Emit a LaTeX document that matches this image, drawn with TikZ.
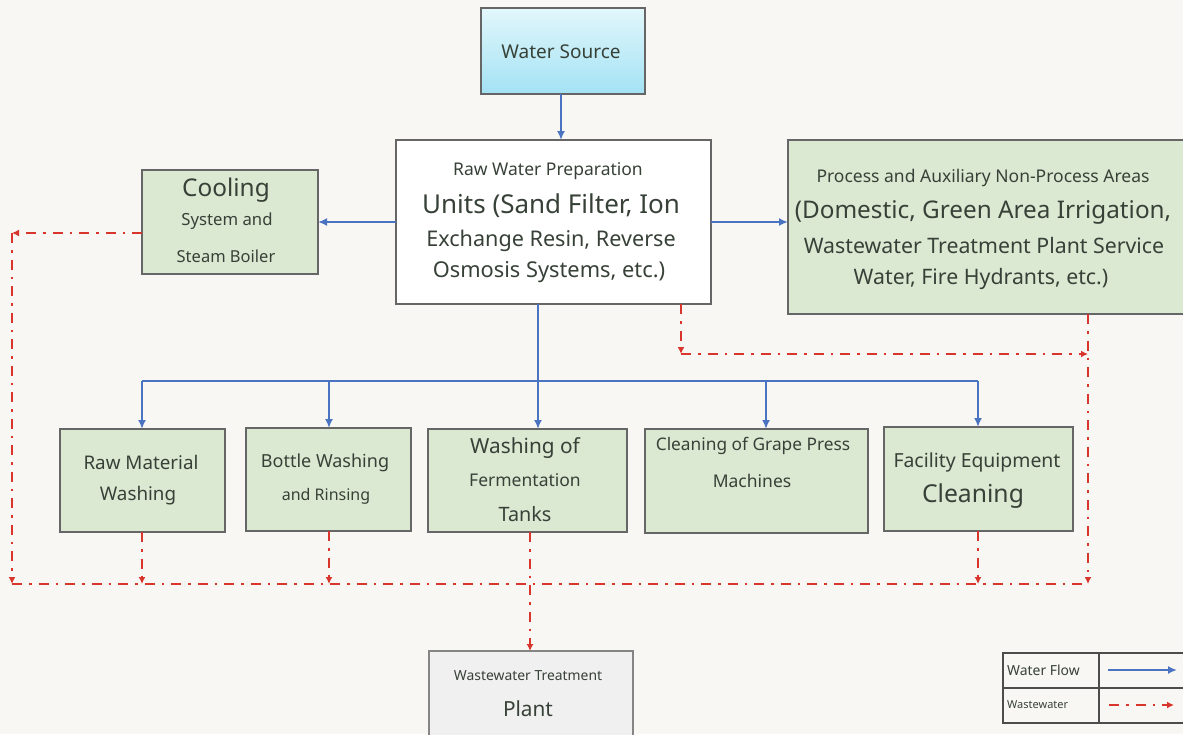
\documentclass[tikz,border=0pt]{standalone}
\usepackage{fontspec}
\setmainfont{Noto Sans}
\usetikzlibrary{arrows.meta}
\newcommand{\myfs}[1]{\fontsize{#1}{#1}\selectfont}
\definecolor{bgc}{HTML}{F8F7F4}
\definecolor{grn}{HTML}{DBE9D3}
\definecolor{bdr}{HTML}{666666}
\definecolor{txt}{HTML}{374137}
\definecolor{flowc}{HTML}{4A74C2}
\definecolor{wwc}{HTML}{D8352C}
\definecolor{wstop}{HTML}{E2F7FB}
\definecolor{wsbot}{HTML}{A3E2F4}
\tikzset{
  box/.style={draw=bdr, line width=1.2pt, anchor=north west, inner sep=0pt, outer sep=0pt},
  gbox/.style={box, fill=grn},
  lbl/.style={text=txt, inner sep=0pt, anchor=center},
  flow/.style={draw=flowc, line width=2.4pt},
  flowa/.style={flow, -{Latex[length=9pt,width=8pt]}},
  ww/.style={draw=wwc, line width=2.6pt, dash pattern=on 10pt off 7pt on 2.5pt off 7pt},
  wwa/.style={ww, -{Latex[length=7pt,width=7pt]}},
}
\begin{document}
\begin{tikzpicture}[x=1pt,y=-1pt]
\fill[bgc] (0,0) rectangle (1183,734);
\useasboundingbox (0,0) rectangle (1183,734);

% boxes
\node[box, top color=wstop, bottom color=wsbot, minimum width=164, minimum height=86] (ws) at (481,8) {};
\node[box, fill=white, minimum width=315, minimum height=164] (raw) at (396,140) {};
\node[gbox, minimum width=176, minimum height=104] (cool) at (142,170) {};
\node[gbox, minimum width=398, minimum height=174] (proc) at (788,140) {};
\node[gbox, minimum width=165, minimum height=103] (rmw) at (60,429) {};
\node[gbox, minimum width=165, minimum height=103] (bot) at (246,428) {};
\node[gbox, minimum width=199, minimum height=103] (ferm) at (428,429) {};
\node[gbox, minimum width=223, minimum height=104] (grape) at (645,429) {};
\node[gbox, minimum width=189, minimum height=104] (fac) at (884,427) {};
\node[box, fill=black!6, draw=bdr!80, minimum width=204, minimum height=90] (wwtp) at (429,651) {};

% texts
\node[lbl] (t-ws) at (561,52) {\myfs{19}Water Source};
\node[lbl] (t-raw1) at (548,171) {\myfs{17.5}Raw Water Preparation};
\node[lbl] (t-raw2) at (551,206) {\myfs{26}Units (Sand Filter, Ion};
\node[lbl] (t-raw3) at (551,241) {\myfs{21.6}Exchange Resin, Reverse};
\node[lbl] (t-raw4) at (549,272) {\myfs{21.8}Osmosis Systems, etc.)};
\node[lbl] (t-c1) at (226,190) {\myfs{24.4}Cooling};
\node[lbl] (t-c2) at (227,221) {\myfs{16.7}System and};
\node[lbl] (t-c3) at (226,256) {\myfs{16.5}Steam Boiler};
\node[lbl] (t-p1) at (983,178) {\myfs{17.5}Process and Auxiliary Non-Process Areas};
\node[lbl] (t-p2) at (983,212) {\myfs{24.3}(Domestic, Green Area Irrigation,};
\node[lbl] (t-p3) at (984,246) {\myfs{21.3}Wastewater Treatment Plant Service};
\node[lbl] (t-p4) at (981,279) {\myfs{21.3}Water, Fire Hydrants, etc.)};
\node[lbl] (t-r1) at (141,462) {\myfs{18.8}Raw Material};
\node[lbl] (t-r2) at (138,496) {\myfs{18.8}Washing};
\node[lbl] (t-b1) at (325,463) {\myfs{18}Bottle Washing};
\node[lbl] (t-b2) at (326,496) {\myfs{16}and Rinsing};
\node[lbl] (t-f1) at (525,448) {\myfs{20.8}Washing of};
\node[lbl] (t-f2) at (525,480) {\myfs{17.5}Fermentation};
\node[lbl] (t-f3) at (525,514) {\myfs{19.8}Tanks};
\node[lbl] (t-g1) at (753,446) {\myfs{17.3}Cleaning of Grape Press};
\node[lbl] (t-g2) at (752,481) {\myfs{17.5}Machines};
\node[lbl] (t-e1) at (977,462) {\myfs{19.4}Facility Equipment};
\node[lbl] (t-e2) at (973,496) {\myfs{24.7}Cleaning};
\node[lbl] (t-w1) at (528,676) {\myfs{13.9}Wastewater Treatment};
\node[lbl] (t-w2) at (528,709) {\myfs{20.8}Plant};

% water flow
\draw[flowa] (ws.south -| 561,0) -- (561,140);
\draw[flowa] (raw.west) -- (raw.west -| cool.east);
\draw[flowa] (raw.east) -- (raw.east -| proc.west);
\coordinate (bus) at (538,381);
\coordinate (busL) at (142,381);
\coordinate (busB) at (329,381);
\coordinate (busG) at (766,381);
\coordinate (busR) at (978,381);
\draw[flowa] (bus |- raw.south) -- (bus |- ferm.north);
\draw[flow] (busL) -- (busR);
\draw[flowa] (busL) -- (busL |- rmw.north);
\draw[flowa] (busB) -- (busB |- bot.north);
\draw[flowa] (busG) -- (busG |- grape.north);
\draw[flowa] (busR) -- (busR |- fac.north);

% wastewater
\coordinate (cl) at (12,233);
\coordinate (bl) at (12,584);
\coordinate (br) at (1088,584);
\coordinate (d1) at (142,584);
\coordinate (d2) at (329,584);
\coordinate (d0) at (530,584);
\coordinate (d4) at (978,584);
\coordinate (rw1) at (681,354);
\coordinate (rw2) at (1088,354);
\draw[wwa] (cool.west |- cl) -- (cl);
\draw[wwa] (cl) -- (bl);
\draw[ww] (bl) -- (br);
\draw[wwa] (rmw.south -| d1) -- (d1);
\draw[wwa] (bot.south -| d2) -- (d2);
\draw[wwa] (ferm.south -| d0) -- (d0 |- wwtp.north);
\draw[wwa] (fac.south -| d4) -- (d4);
\draw[wwa] (raw.south -| rw1) -- (rw1);
\draw[wwa] (rw1) -- (rw2);
\draw[wwa] (proc.south -| br) -- (br);

% legend
\node[box, draw=black!70, line width=1.3pt, minimum width=190, minimum height=70] (leg) at (1003,653) {};
\draw[draw=black!70, line width=1.3pt] (leg.west |- 0,688) coordinate (lgm) -- (leg.east |- lgm);
\draw[draw=black!70, line width=1.3pt] (leg.north -| 1099,0) coordinate (lgc) -- (lgc |- leg.south);
\node[lbl, anchor=west] (l-wf) at (1007,670) {\myfs{13.9}Water Flow};
\node[lbl, anchor=west] (l-ww) at (1007,705) {\myfs{11}Wastewater};
\coordinate (la1) at (1108,670);
\coordinate (la2) at (1177,670);
\coordinate (lb1) at (1109,705);
\coordinate (lb2) at (1174,705);
\draw[flowa] (la1) -- (la2);
\draw[wwa] (lb1) -- (lb2);
\end{tikzpicture}
\end{document}
